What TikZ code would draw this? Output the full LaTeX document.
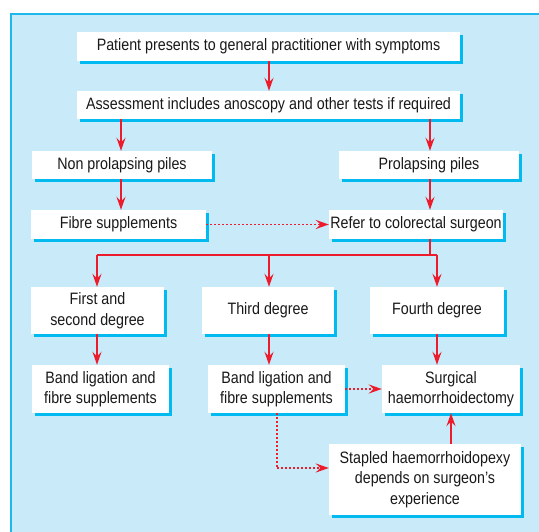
\documentclass[tikz,border=0pt]{standalone}
\usepackage{fontspec}
\setmainfont{Liberation Sans}[FakeStretch=0.865]
\usetikzlibrary{arrows.meta,shadows,positioning}
\definecolor{panel}{HTML}{C8EAF9}
\definecolor{edge}{HTML}{1EB8EC}
\definecolor{shad}{HTML}{00BAF0}
\definecolor{arr}{HTML}{EC1C2C}
\begin{document}
\begin{tikzpicture}[x=1pt,y=-1pt,
  box/.style={fill=white, inner sep=0pt, align=center, font=\fontsize{16.5}{20.5}\selectfont,
    text=black!90, general shadow={fill=shad, shadow xshift=3pt, shadow yshift=-3pt}},
  link/.style={draw=arr, line width=1.6pt, -{Stealth[length=13pt,width=9pt,inset=4.5pt]}},
  plainlink/.style={draw=arr, line width=1.6pt},
  dotlink/.style={draw=arr, line width=1.8pt, dash pattern=on 2pt off 2pt, -{Stealth[length=13pt,width=9pt,inset=4.5pt]}},
  dotplain/.style={draw=arr, line width=1.8pt, dash pattern=on 2pt off 2pt}
]
\useasboundingbox (0,0) rectangle (539,532);
\fill[panel] (11,14) rectangle (545,540);
\draw[edge, line width=1.2pt] (11,540) -- (11,14) -- (545,14);

\node[box, minimum width=383pt, minimum height=29pt] (b1) at (268.5,46.5) {Patient presents to general practitioner with symptoms};
\node[box, minimum width=383pt, minimum height=28pt] (b2) at (268.5,105) {Assessment includes anoscopy and other tests if required};
\node[box, minimum width=180pt, minimum height=28pt] (np) at (122,165) {Non prolapsing piles};
\node[box, minimum width=180pt, minimum height=28pt] (pp) at (429,165) {Prolapsing piles};
\node[box, minimum width=175pt, minimum height=29pt] (fs) at (118.5,224.5) {Fibre supplements};
\node[box, minimum width=174pt, minimum height=29pt] (rc) at (416,224.5) {Refer to colorectal surgeon};
\node[box, minimum width=133pt, minimum height=47pt] (d1) at (97.5,310.5) {First and\\second degree};
\node[box, minimum width=132pt, minimum height=47pt] (d3) at (268,310.5) {Third degree};
\node[box, minimum width=134pt, minimum height=47pt] (d4) at (437,310.5) {Fourth degree};
\node[box, minimum width=137pt, minimum height=48pt] (bl1) at (100.5,389) {Band ligation and\\fibre supplements};
\node[box, minimum width=137pt, minimum height=48pt] (bl2) at (276.5,389) {Band ligation and\\fibre supplements};
\node[box, minimum width=138pt, minimum height=48pt] (sh) at (451,389) {Surgical\\haemorrhoidectomy};
\node[box, minimum width=192pt, minimum height=71pt] (st) at (425,479.5) {Stapled haemorrhoidopexy\\depends on surgeon's\\experience};

\coordinate (br) at (430,255);
\coordinate (brl) at (97,255);
\coordinate (brm) at (269,255);
\coordinate (brr) at (437,255);
\coordinate (dc) at (277,468);

\draw[link] (b1.south -| 269,0) -- (b2.north -| 269,0);
\draw[link] (b2.south -| 121,0) -- (np.north -| 121,0);
\draw[link] (b2.south -| 430,0) -- (pp.north -| 430,0);
\draw[link] (np.south -| 121,0) -- (fs.north -| 121,0);
\draw[link] (pp.south -| 430,0) -- (rc.north -| 430,0);
\draw[dotlink] (fs.east) -- (rc.west);
\draw[plainlink] (rc.south -| br) -- (br);
\draw[plainlink] (brl) -- (brr);
\draw[link] (brl) -- (d1.north -| brl);
\draw[link] (brm) -- (d3.north -| brm);
\draw[link] (brr) -- (d4.north -| brr);
\draw[link] (d1.south -| brl) -- (bl1.north -| brl);
\draw[link] (d3.south -| brm) -- (bl2.north -| brm);
\draw[link] (d4.south -| brr) -- (sh.north -| brr);
\draw[dotlink] (bl2.east) -- (sh.west);
\draw[link] (st.north -| 451,0) -- (sh.south -| 451,0);
\draw[dotplain] (bl2.south -| dc) -- (dc);
\draw[dotlink] (dc) -- (st.west |- dc);
\end{tikzpicture}
\end{document}
